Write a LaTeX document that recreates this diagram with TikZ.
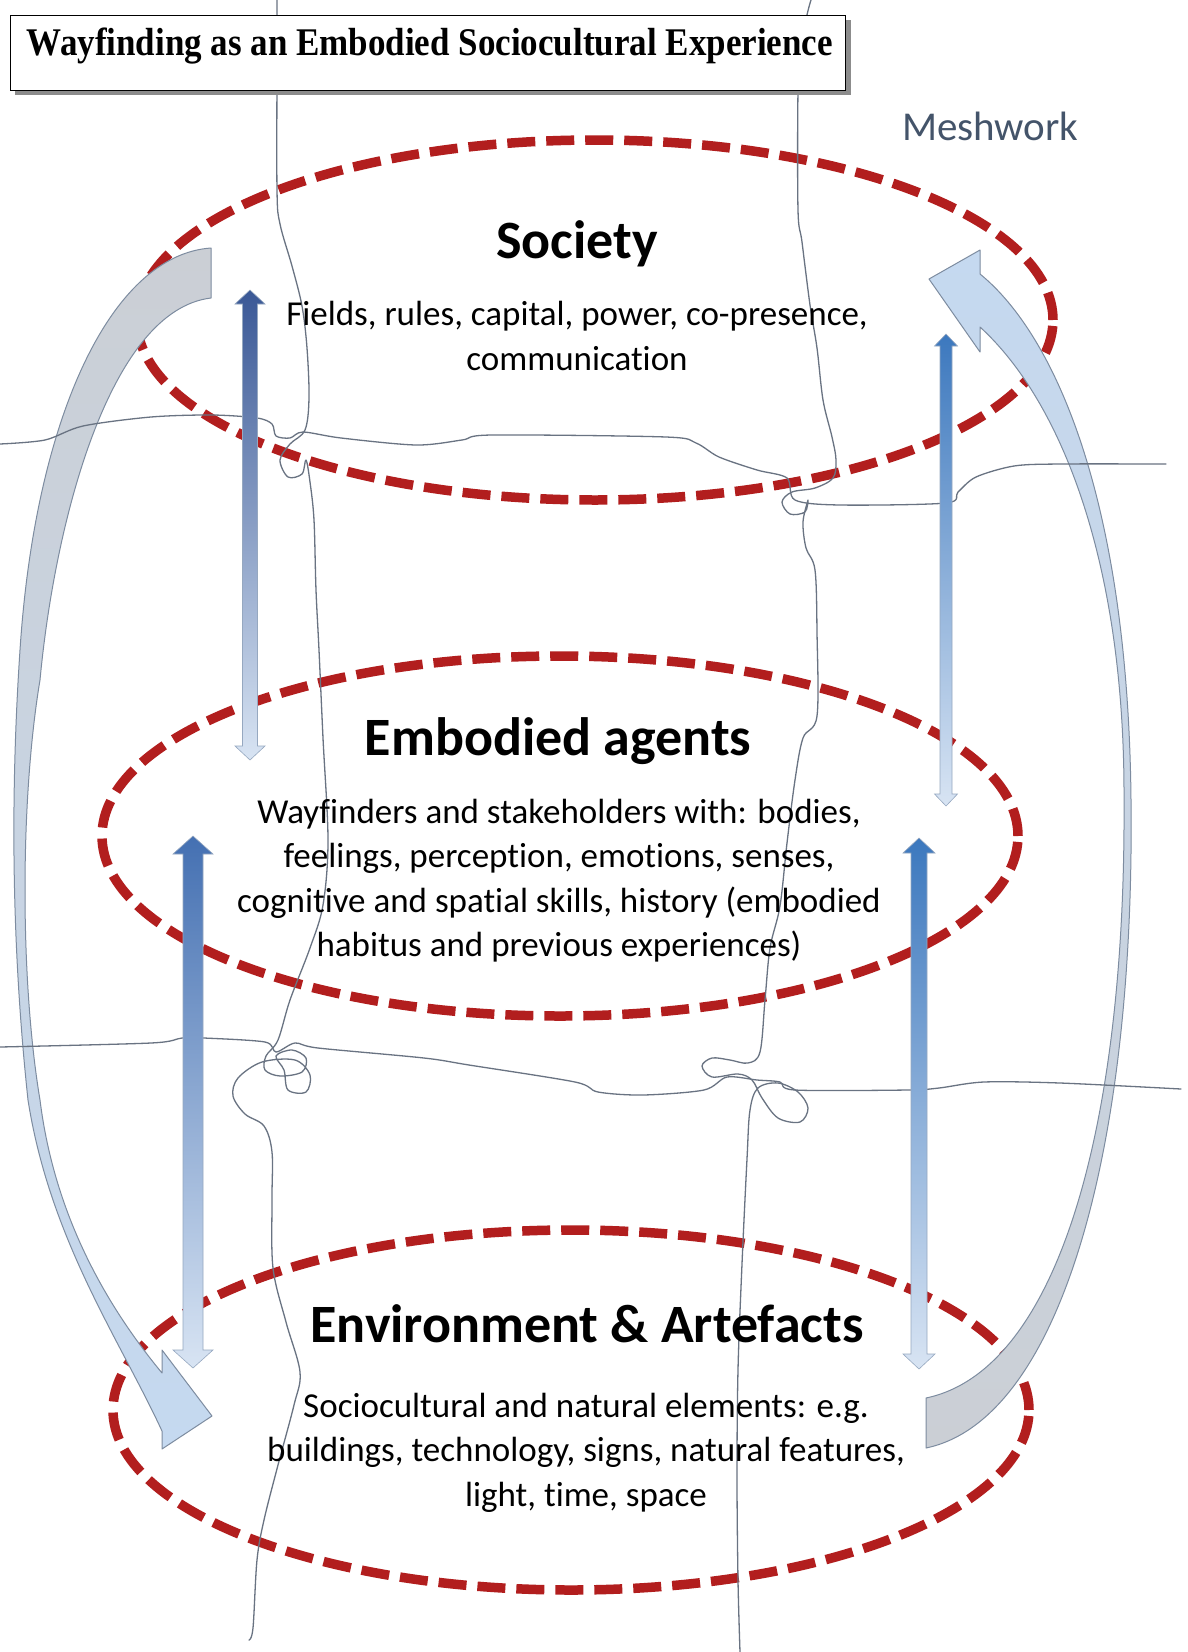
\documentclass[tikz,border=0pt]{standalone}
\usepackage{fontspec}
\usepackage{graphicx}
\setmainfont{Carlito}[RawFeature={-liga}]
\newfontfamily\titlefont{Liberation Serif}
\usetikzlibrary{shapes.geometric}
\definecolor{ered}{RGB}{178,30,30}
\definecolor{meshc}{RGB}{105,115,130}
\definecolor{meshtxt}{RGB}{68,84,106}
\definecolor{cgrey}{RGB}{203,207,213}
\definecolor{cblue}{RGB}{197,217,240}
\definecolor{cedge}{RGB}{125,140,160}
\definecolor{atopA}{RGB}{58,88,150}
\definecolor{atopB}{RGB}{60,120,190}
\definecolor{atopC}{RGB}{68,112,178}
\definecolor{abot}{RGB}{216,228,243}
\definecolor{aedge}{RGB}{150,168,192}
% x, y top tip, y bottom tip, shaft width, head width, head length, top colour, bottom colour
\newcommand\dblarrow[8]{%
  \shade[top color=#7, bottom color=#8, draw=aedge, line width=0.6pt]
    (#1,#2) -- ({#1+#5/2},{#2+#6}) -- ({#1+#4/2},{#2+#6}) -- ({#1+#4/2},{#3-#6})
    -- ({#1+#5/2},{#3-#6}) -- (#1,#3) -- ({#1-#5/2},{#3-#6}) -- ({#1-#4/2},{#3-#6})
    -- ({#1-#4/2},{#2+#6}) -- ({#1-#5/2},{#2+#6}) -- cycle;}
\begin{document}
\begin{tikzpicture}[x=1pt,y=-1pt,
  ell/.style={ellipse, draw=ered, line width=9.5pt, dash pattern=on 28pt off 11pt,
    minimum width=916pt, minimum height=360pt, inner sep=0pt, outer sep=0pt},
  mesh/.style={draw=meshc, line width=1.3pt, line join=round, line cap=round},
  head/.style={font=\fontsize{54}{60}\selectfont\bfseries, inner sep=0pt, anchor=base},
  body/.style={font=\fontsize{35}{42}\selectfont, inner sep=0pt, anchor=base},
  curvarrow/.style={draw=cedge, line width=1pt, line join=round}]
\useasboundingbox (0,0) rectangle (1187,1652);
\fill[white] (0,0) rectangle (1187,1652);

% ---- dashed ellipses (layers) ----
\node[ell] (soc) at (595,320) {};
\node[ell] (emb) at (560,836) {};
\node[ell] (env) at (571,1410) {};

% ---- large curved arrows ----
% left: from Society down to Environment
\shade[curvarrow, top color=cgrey, bottom color=cblue]
  (211,248) .. controls (110,255) and (35,420) .. (20,650)
  .. controls (10,800) and (12,950) .. (28,1100)
  .. controls (50,1240) and (120,1340) .. (162,1431)
  -- (162,1449) -- (212,1416) -- (162,1350) -- (162,1373)
  .. controls (110,1310) and (55,1220) .. (40,1100)
  .. controls (20,980) and (20,800) .. (40,680)
  .. controls (55,520) and (110,310) .. (211,298) -- cycle;
% right: from Environment up to Society
\shade[curvarrow, top color=cblue, bottom color=cgrey]
  (929,279) -- (980,250) -- (980,274)
  .. controls (1055,335) and (1128,500) .. (1131,800)
  .. controls (1135,1150) and (1060,1420) .. (926,1448)
  -- (926,1398)
  .. controls (1060,1370) and (1126,1120) .. (1124,800)
  .. controls (1125,560) and (1060,400) .. (980,327)
  -- (980,352) -- cycle;

% ---- meshwork lines ----
\draw[mesh] plot[smooth, tension=0.55] coordinates {
  (277,0) (277,60) (277,190) (280,224) (292,266) (302,306) (307,348) (309,398)
  (305,430) (290,444) (280,460) (288,477) (302,474) (306,460) (310,482)
  (314,520) (316,590) (319,650) (323,738) (328,840) (323,905) (310,948)
  (290,1000) (278,1040) (266,1056) (265,1070) (280,1076) (302,1072) (306,1058)
  (292,1050) (276,1056) (284,1070) (288,1090) (306,1092) (310,1075) (295,1060)
  (262,1062) (238,1078) (233,1096) (245,1114) (264,1126) (272,1152)
  (272,1200) (273,1268) (286,1322) (300,1372) (294,1405) (278,1465)
  (264,1520) (257,1560) (253,1628) (249,1640) };
\draw[mesh] plot[smooth, tension=0.55] coordinates {
  (811,0) (806,20) (801,60) (798,91) (798,210) (802,242) (810,305) (817,348)
  (823,400) (832,437) (836,460) (833,478) (815,488) (792,492) (782,502)
  (790,514) (805,512) (808,500) (803,522) (806,548) (815,570) (817,632)
  (817,716) (803,738) (795,780) (787,843) (780,906) (770,948) (765,1000)
  (760,1052) (748,1063) (730,1060) (712,1058) (702,1066) (712,1077) (738,1074)
  (752,1080) (762,1098) (778,1118) (800,1122) (808,1108) (798,1092) (778,1083)
  (758,1088) (750,1110) (747,1159) (742,1264) (738,1370) (737,1475) (738,1580) (740,1652) };
\draw[mesh] plot[smooth, tension=0.5] coordinates {
  (0,444) (45,440) (83,426) (151,417) (212,415) (257,418) (272,424) (276,436)
  (290,438) (303,432) (341,438) (416,445) (462,440) (492,435) (666,437) (696,443)
  (719,457) (757,470) (787,478) (795,500) (840,505) (946,503) (958,492)
  (976,477) (1014,466) (1060,464) (1166,464) };
\draw[mesh] plot[smooth, tension=0.5] coordinates {
  (0,1047) (151,1043) (182,1038) (204,1038) (265,1042) (276,1052) (295,1043)
  (318,1048) (424,1058) (469,1065) (575,1082) (598,1092) (643,1095) (704,1090)
  (727,1077) (757,1080) (780,1082) (795,1090) (908,1090) (939,1088) (984,1082)
  (1060,1083) (1181,1089) };

% ---- vertical two-headed arrows ----
\dblarrow{250}{290}{760}{15}{30}{14}{atopA}{abot}
\dblarrow{946}{334}{806}{12}{23}{12}{atopB}{abot}
\dblarrow{193}{836}{1368}{20}{40}{18}{atopC}{abot}
\dblarrow{919}{838}{1369}{16}{32}{15}{atopB}{abot}

% ---- title box ----
\fill[black!45] (15,20) rectangle (851,95);
\node[draw=black, line width=1.4pt, fill=white, minimum width=835pt, minimum height=75pt,
  inner sep=0pt, anchor=north west] (titlebox) at (10,15) {};
\node[font=\titlefont\bfseries\fontsize{35}{40}\selectfont, inner sep=0pt, anchor=base]
  (title) at (430,55) {\scalebox{1}[1.12]{Wayfinding as an Embodied Sociocultural Experience}};

\node[font=\fontsize{41}{48}\selectfont, text=meshtxt, inner sep=0pt, anchor=base west]
  (mesh) at (902,140) {Meshwork};

% ---- texts ----
\node[head] (socT) at (577,258) {Society};
\node[body] (soc1) at (577,325.5) {Fields, rules, capital, power, co-presence,};
\node[body] (soc2) at (577,370) {communication};

\node[head] (embT) at (558,755) {Embodied agents};
\node[body] (emb1) at (559,823) {Wayfinders and stakeholders with: bodies,};
\node[body] (emb2) at (559,867.5) {feelings, perception, emotions, senses,};
\node[body] (emb3) at (559,912) {cognitive and spatial skills, history (embodied};
\node[body] (emb4) at (559,956.5) {habitus and previous experiences)};

\node[head] (envT) at (587,1342) {Environment \& Artefacts};
\node[body] (env1) at (586,1417) {Sociocultural and natural elements: e.g.};
\node[body] (env2) at (586,1461.5) {buildings, technology, signs, natural features,};
\node[body] (env3) at (586,1506) {light, time, space};
\end{tikzpicture}
\end{document}
